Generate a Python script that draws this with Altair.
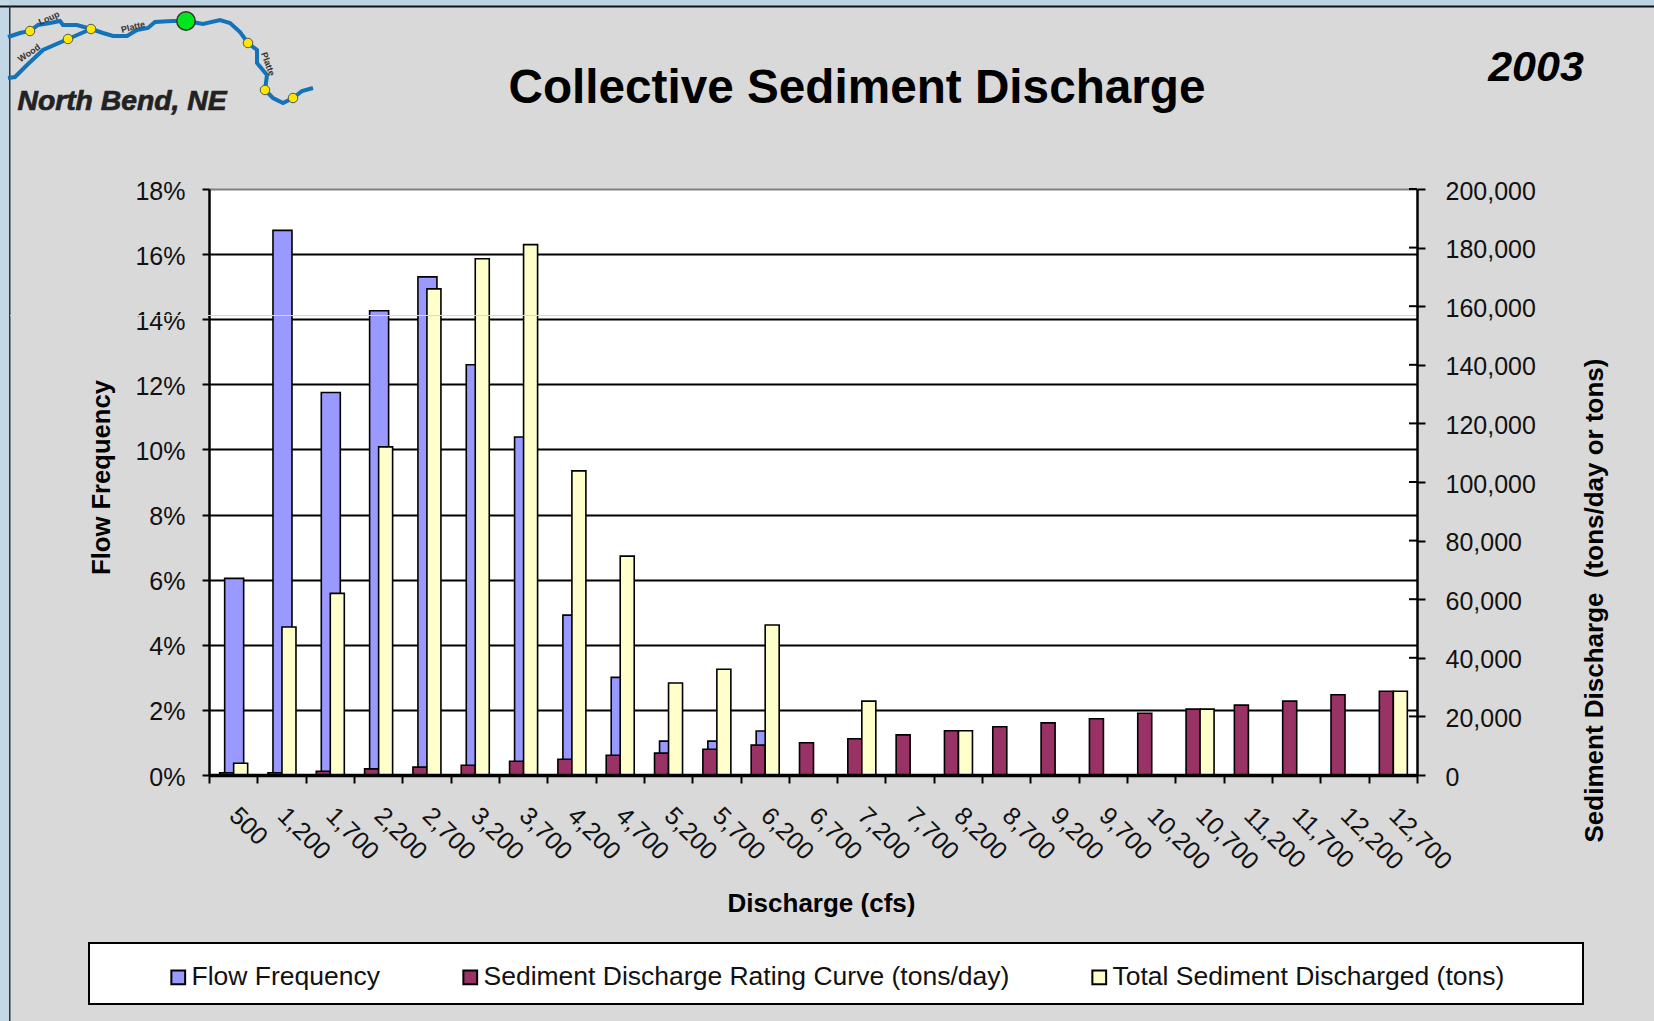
import altair as alt
import pandas as pd

FONT = "Liberation Sans"
LEFT, TOP, RIGHT, BOTTOM = 209, 189, 1417, 775

discharge = ["500", "1,200", "1,700", "2,200", "2,700", "3,200", "3,700", "4,200", "4,700",
             "5,200", "5,700", "6,200", "6,700", "7,200", "7,700", "8,200", "8,700", "9,200",
             "9,700", "10,200", "10,700", "11,200", "11,700", "12,200", "12,700"]

# percent of days in each discharge class
flow_frequency = [6.04, 16.73, 11.75, 14.26, 15.30, 12.60, 10.38, 4.91, 3.00, 1.04, 1.04, 1.35,
                  None, None, None, None, None, None, None, None, None, None, None, None, None]
# tons/day
rating_curve = [750, 750, 1300, 2100, 2700, 3350, 4700, 5400, 6750, 7450, 8800, 10200, 11000,
                12350, 13700, 15100, 16450, 17800, 19200, 21100, 22500, 23850, 25200, 27400, 28600]
# tons
total_sediment = [4030, 50500, 62000, 112000, 165900, 176200, 181000, 103800, 74700, 31400, 36100,
                  51200, None, 25200, None, 15100, None, None, None, None, 22500, None, None, None, 28600]

series_names = ["Flow Frequency", "Sediment Discharge Rating Curve (tons/day)", "Total Sediment Discharged (tons)"]
series_colors = ["#9999FF", "#993366", "#FFFFCC"]
right_ticks = list(range(0, 200001, 20000))

# North Bend location map in the header, page pixels
river_main_x = [8, 20, 30, 38, 50, 60, 63, 77, 91, 103, 113, 127, 137, 148, 155, 172, 186, 203, 220, 230, 240, 248, 257, 257, 267, 265, 273, 283, 293, 302, 313]
river_main_y = [37, 33, 31, 25, 23, 21, 25, 25, 29, 33, 36, 36, 30, 28, 22, 21, 21, 24, 20, 23, 32, 43, 50, 63, 75, 90, 98, 103, 98, 91, 88]
river_branch_x = [8, 15, 27, 43, 68, 91]
river_branch_y = [78, 77, 65, 50, 39, 29]
station_x = [30, 91, 68, 248, 265, 293]
station_y = [31, 29, 39, 43, 90, 98]
place_labels = ["Loup", "Platte", "Wood", "Platte"]
place_x = [49, 133, 29, 268]
place_y = [18, 27, 53, 64]
place_angle = [-25, -15, -35, 70]

freq_df = pd.DataFrame({"discharge": discharge, "value": flow_frequency, "series": series_names[0]}).dropna()
rate_df = pd.DataFrame({"discharge": discharge, "value": rating_curve, "series": series_names[1]})
total_df = pd.DataFrame({"discharge": discharge, "value": total_sediment, "series": series_names[2]}).dropna()

band = alt.Scale(domain=discharge, paddingInner=0, paddingOuter=0)
color = alt.Color(
    "series:N",
    scale=alt.Scale(domain=series_names, range=series_colors),
    legend=alt.Legend(
        title=None, orient="none", direction="horizontal", columns=3, legendX=165 - LEFT, legendY=964 - TOP,
        columnPadding=76, symbolType="square", symbolSize=190, symbolStrokeColor="black", symbolStrokeWidth=2,
        labelFont=FONT, labelFontSize=26.5, labelColor="#111", labelOffset=0, labelLimit=700, padding=0, zindex=2,
    ),
)
no_x = alt.X("discharge:N", scale=band, axis=None)
y_right = alt.Scale(domain=[0, 200000])


def page_value(v, origin):
    return alt.value(v - origin)


one_row = pd.DataFrame({"a": [0]})


def box(x0, y0, x1, y1, fill):
    return alt.Chart(one_row).mark_rect(fill=fill, strokeWidth=0).encode(
        x=page_value(x0, LEFT), x2=page_value(x1, LEFT), y=page_value(y0, TOP), y2=page_value(y1, TOP))


def label(text, x, y, size, **kw):
    return alt.Chart(one_row).mark_text(text=text, font=FONT, fontSize=size, **kw).encode(
        x=page_value(x, LEFT), y=page_value(y, TOP))


frame = [box(0, 0, 1654, 6, "#BBD3E2"), box(0, 0, 9, 1021, "#C3D8E6"),
         box(0, 5.5, 1654, 7.5, "#111111"), box(9, 6, 10.5, 1021, "#333333")]
legend_box = alt.Chart(one_row).mark_rect(fill="white", stroke="black", strokeWidth=2).encode(
    x=page_value(89, LEFT), x2=page_value(1583, LEFT), y=page_value(943, TOP), y2=page_value(1004, TOP))


def river(xs, ys):
    df = pd.DataFrame({"px": [x - LEFT for x in xs], "py": [y - TOP for y in ys], "o": range(len(xs))})
    return alt.Chart(df).mark_line(color="#1273BA", strokeWidth=4).encode(
        x=alt.X("px:Q", scale=None, axis=None), y=alt.Y("py:Q", scale=None, axis=None), order="o:Q")


stations = alt.Chart(pd.DataFrame({"px": [x - LEFT for x in station_x], "py": [y - TOP for y in station_y]})).mark_point(
    filled=True, fill="#FFE800", stroke="#555", strokeWidth=1, size=90, opacity=1).encode(
    x=alt.X("px:Q", scale=None, axis=None), y=alt.Y("py:Q", scale=None, axis=None))
junction = alt.Chart(pd.DataFrame({"px": [186 - LEFT], "py": [21 - TOP]})).mark_point(
    filled=True, fill="#00E61E", stroke="#333", strokeWidth=1.5, size=340, opacity=1).encode(
    x=alt.X("px:Q", scale=None, axis=None), y=alt.Y("py:Q", scale=None, axis=None))
places = [label(t, x, y, 9, fontWeight="bold", color="#333", angle=(a + 360) % 360)
          for t, x, y, a in zip(place_labels, place_x, place_y, place_angle)]

freq_bars = alt.Chart(freq_df).mark_bar(size=19, xOffset=1, stroke="black", strokeWidth=1.6).encode(
    x=alt.X(
        "discharge:N", scale=band, sort=discharge,
        axis=alt.Axis(
            title="Discharge (cfs)", titleFont=FONT, titleFontSize=26, titleFontWeight="bold", titleColor="black",
            titleX=612, titleY=128, titleBaseline="middle", titleAnchor="middle",
            labelFont=FONT, labelFontSize=25, labelColor="#111", labelAngle=45, labelAlign="left", labelBaseline="middle",
            labelPadding=28, labelOverlap=False, labelBound=False, labelFlush=False,
            tickBand="extent", tickSize=8, tickWidth=2, tickColor="black",
            domainColor="black", domainWidth=3.5, grid=False, zindex=1,
        ),
    ),
    y=alt.Y(
        "value:Q", scale=alt.Scale(domain=[0, 18]),
        axis=alt.Axis(
            values=list(range(0, 19, 2)), orient="left", labelExpr="datum.value + '%'",
            title="Flow Frequency", titleFont=FONT, titleFontSize=25.6, titleFontWeight="bold", titleColor="black",
            titleX=-108, titleY=288, titleAngle=270, titleAnchor="middle", titleBaseline="middle",
            labelFont=FONT, labelFontSize=25, labelColor="#111", labelPadding=17, labelOffset=2,
            tickSize=7, tickWidth=2, tickColor="black", domainColor="black", domainWidth=2.5,
            grid=True, gridWidth=2, gridColor=alt.expr("datum.value === 18 ? '#808080' : '#000000'"), zindex=0,
        ),
    ),
    color=color,
)

rate_bars = alt.Chart(rate_df).mark_bar(size=14, xOffset=-6.5, stroke="black", strokeWidth=1.6).encode(
    x=no_x,
    y=alt.Y(
        "value:Q", scale=y_right,
        axis=alt.Axis(
            values=right_ticks, orient="right", format=",d",
            title="Sediment Discharge\u00a0\u00a0(tons/day or tons)", titleFont=FONT, titleFontSize=26, titleFontWeight="bold",
            titleColor="black", titleX=177, titleY=411, titleAngle=270, titleAnchor="middle", titleBaseline="middle",
            labelFont=FONT, labelFontSize=25, labelColor="#111", labelPadding=20, labelOffset=2,
            tickSize=8, tickWidth=2, tickColor="black", domainColor="black", domainWidth=2.5, grid=False, zindex=1,
        ),
    ),
    color=color,
)

total_bars = alt.Chart(total_df).mark_bar(size=14, xOffset=7.5, stroke="black", strokeWidth=1.6).encode(
    x=no_x, y=alt.Y("value:Q", scale=y_right, axis=None), color=color,
)

# the right axis ticks cross the axis line, so add their inner half
inner_ticks = alt.Chart(pd.DataFrame({"tick": right_ticks})).mark_rule(color="black", strokeWidth=2).encode(
    x=alt.value(RIGHT - LEFT - 8), x2=alt.value(RIGHT - LEFT),
    y=alt.Y("tick:Q", scale=y_right, axis=None),
)

seam = alt.Chart(one_row).mark_rule(color="#CDDCE6", strokeWidth=1).encode(
    x=page_value(10, LEFT), x2=page_value(1654, LEFT), y=page_value(315.5, TOP))

heading = label("Collective Sediment Discharge", 857, 89, 47.7, fontWeight="bold", color="black")
year = label("2003", 1536, 68, 43, fontWeight="bold", fontStyle="italic", color="black")
town = label("North Bend, NE", 122, 102, 28.3, fontWeight="bold", fontStyle="italic", color="#222",
             stroke="#222", strokeWidth=0.7)

chart = alt.layer(
    *frame, legend_box,
    river(river_main_x, river_main_y), river(river_branch_x, river_branch_y), stations, junction, *places, town, year, heading,
    freq_bars, rate_bars, total_bars, inner_ticks, seam,
).resolve_scale(x="independent", y="independent", color="shared").properties(
    width=RIGHT - LEFT,
    height=BOTTOM - TOP,
    padding={"left": LEFT, "top": TOP, "right": 1654 - RIGHT, "bottom": 1021 - BOTTOM},
    autosize=alt.AutoSizeParams(type="none"),
    background="#D9D9D9",
).configure_view(fill="white", stroke=None)

chart.save("out.html", embed_options={"renderer": "svg", "actions": False})
